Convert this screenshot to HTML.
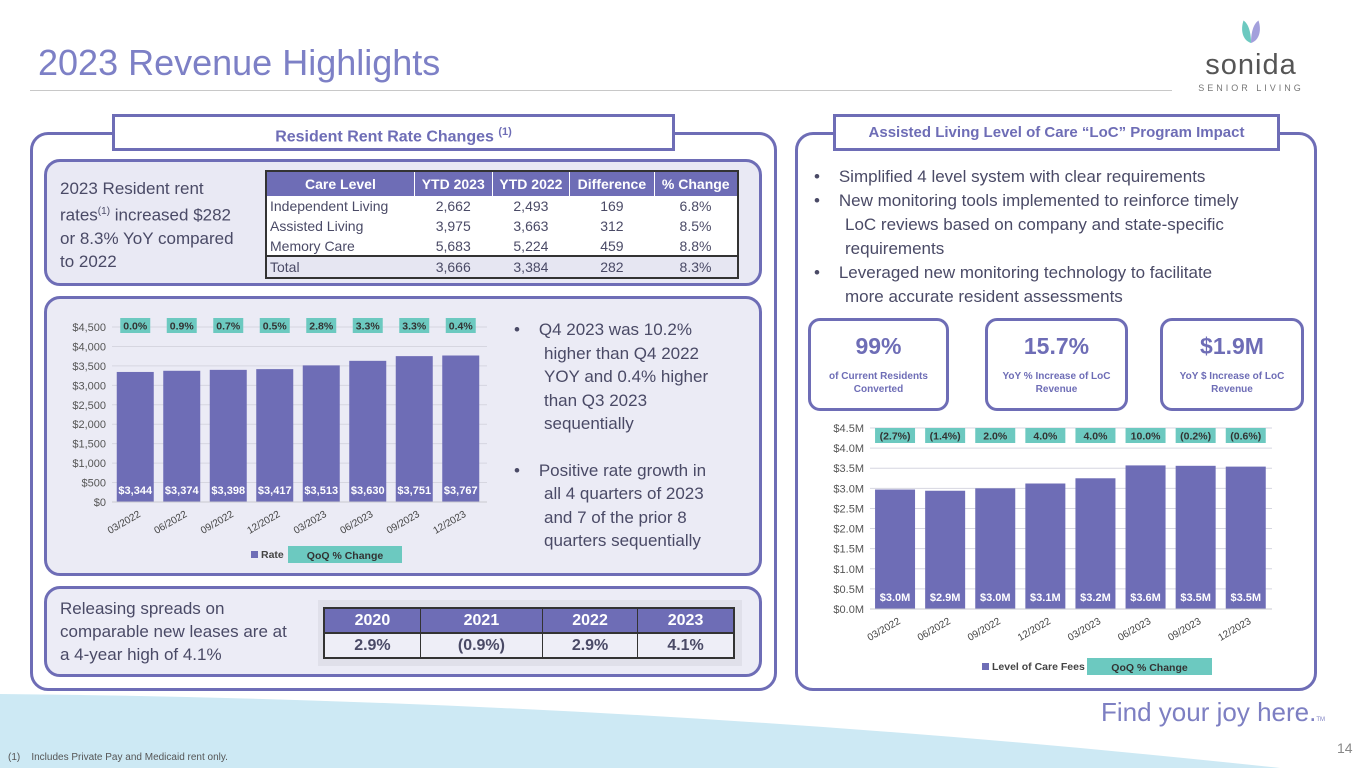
<!DOCTYPE html>
<html><head><meta charset="utf-8">
<style>
*{margin:0;padding:0;box-sizing:border-box}
body{width:1365px;height:768px;position:relative;overflow:hidden;background:#fff;font-family:"Liberation Sans",sans-serif;color:#4a4a66}
.abs{position:absolute}
.panel{position:absolute;border:3px solid #6e6db6;border-radius:18px}
.inner{position:absolute;border:3px solid #6e6db6;border-radius:16px;background:#e9e9f4}
.ttl{position:absolute;background:#fff;border:3px solid #6e6db6;color:#6e6db6;font-weight:bold;font-size:16px;text-align:center;line-height:31px}
table{border-collapse:collapse;font-size:14px}
.stat{position:absolute;background:#fff;border:3px solid #6e6db6;border-radius:12px;text-align:center;color:#6e6db6}
.stat b{display:block;font-size:23px;margin-top:12px}
.stat span{display:block;font-size:10px;font-weight:bold;margin-top:10px;line-height:13px}
ul{list-style:none}
li{white-space:nowrap}
</style></head><body>
<svg class="abs" style="left:0;top:0" width="1365" height="768"><path d="M0,694 Q650,700 1280,768 L0,768Z" fill="#cde9f4"/></svg>

<div class="abs" style="left:38px;top:42px;font-size:36px;color:#7d80c6">2023 Revenue Highlights</div>
<div class="abs" style="left:30px;top:90px;width:1142px;height:1px;background:#c8c8c8"></div>

<div class="abs" style="left:1191px;top:16px;width:120px;height:90px;text-align:center;white-space:nowrap">
<svg width="30" height="30" viewBox="0 0 40 36"><path d="M20,34 C8,30 6,16 10,4 C16,8 20,18 20,34Z" fill="#6cc9c0"/><path d="M20,34 C32,30 34,16 30,4 C24,8 20,18 20,34Z" fill="#a3a0dc"/></svg>
<div style="font-size:29px;color:#555;letter-spacing:1px;line-height:28px;margin-top:0px">sonida</div>
<div style="font-size:9px;color:#777;letter-spacing:3px;margin-top:4px">SENIOR LIVING</div>
</div>

<!-- LEFT PANEL -->
<div class="panel" style="left:30px;top:132px;width:747px;height:559px"></div>
<div class="ttl" style="left:112px;top:114px;width:563px;height:37px">Resident Rent Rate Changes <sup style="font-size:11px">(1)</sup></div>

<div class="inner" style="left:44px;top:159px;width:718px;height:127px"></div>
<div class="abs" style="left:60px;top:177px;font-size:17px;line-height:23px;white-space:nowrap">2023 Resident rent<br>rates<sup style="font-size:10px">(1)</sup> increased $282<br>or 8.3% YoY compared<br>to 2022</div>
<table class="abs" style="left:265px;top:170px;width:474px;border:2px solid #333;background:#fff">
<tr style="background:#6e6db6;color:#fff;font-weight:bold;height:25px;text-align:center"><td style="border-right:1px solid #fff">Care Level</td><td style="border-right:1px solid #fff">YTD 2023</td><td style="border-right:1px solid #fff">YTD 2022</td><td style="border-right:1px solid #fff">Difference</td><td>% Change</td></tr>
<tr style="height:20px;text-align:center"><td style="text-align:left;padding-left:3px">Independent Living</td><td>2,662</td><td>2,493</td><td>169</td><td>6.8%</td></tr>
<tr style="height:20px;text-align:center"><td style="text-align:left;padding-left:3px">Assisted Living</td><td>3,975</td><td>3,663</td><td>312</td><td>8.5%</td></tr>
<tr style="height:20px;text-align:center"><td style="text-align:left;padding-left:3px">Memory Care</td><td>5,683</td><td>5,224</td><td>459</td><td>8.8%</td></tr>
<tr style="height:22px;text-align:center;background:#e6e6f2;border-top:2px solid #333"><td style="text-align:left;padding-left:3px">Total</td><td>3,666</td><td>3,384</td><td>282</td><td>8.3%</td></tr>
</table>

<div class="inner" style="left:44px;top:296px;width:718px;height:280px;background:#ebebf5"></div>
<svg class="abs" id="leftChart" style="left:44px;top:296px" width="460" height="280"></svg>
<ul class="abs" style="left:514px;top:318px;font-size:17px;line-height:23.5px">
<li>•&nbsp;&nbsp;&nbsp;&nbsp;Q4 2023 was 10.2%</li>
<li style="padding-left:30px">higher than Q4 2022</li>
<li style="padding-left:30px">YOY and 0.4% higher</li>
<li style="padding-left:30px">than Q3 2023</li>
<li style="padding-left:30px">sequentially</li>
<li style="margin-top:23px">•&nbsp;&nbsp;&nbsp;&nbsp;Positive rate growth in</li>
<li style="padding-left:30px">all 4 quarters of 2023</li>
<li style="padding-left:30px">and 7 of the prior 8</li>
<li style="padding-left:30px">quarters sequentially</li>
</ul>

<div class="inner" style="left:44px;top:586px;width:718px;height:91px;background:#ececf6"></div>
<div class="abs" style="left:60px;top:597px;font-size:17px;line-height:23px;white-space:nowrap">Releasing spreads on<br>comparable new leases are at<br>a 4-year high of 4.1%</div>
<div class="abs" style="left:318px;top:600px;width:424px;height:66px;background:#e0e0ea"></div>
<table class="abs" style="left:323px;top:607px;width:412px;border:2px solid #333;font-weight:bold;font-size:16px;text-align:center">
<tr style="background:#6e6db6;color:#fff;height:25px"><td style="border-right:1px solid #333">2020</td><td style="border-right:1px solid #333">2021</td><td style="border-right:1px solid #333">2022</td><td>2023</td></tr>
<tr style="background:#eeeef7;height:25px;border-top:2px solid #333"><td style="border-right:1px solid #333">2.9%</td><td style="border-right:1px solid #333">(0.9%)</td><td style="border-right:1px solid #333">2.9%</td><td>4.1%</td></tr>
</table>

<!-- RIGHT PANEL -->
<div class="panel" style="left:795px;top:132px;width:522px;height:559px"></div>
<div class="ttl" style="left:833px;top:114px;width:447px;height:37px;font-size:15px">Assisted Living Level of Care “LoC” Program Impact</div>
<ul class="abs" style="left:814px;top:165px;font-size:17px;line-height:24px">
<li>•&nbsp;&nbsp;&nbsp;&nbsp;Simplified 4 level system with clear requirements</li>
<li>•&nbsp;&nbsp;&nbsp;&nbsp;New monitoring tools implemented to reinforce timely</li>
<li style="padding-left:31px">LoC reviews based on company and state-specific</li>
<li style="padding-left:31px">requirements</li>
<li>•&nbsp;&nbsp;&nbsp;&nbsp;Leveraged new monitoring technology to facilitate</li>
<li style="padding-left:31px">more accurate resident assessments</li>
</ul>
<div class="stat" style="left:808px;top:318px;width:141px;height:93px"><b>99%</b><span>of Current Residents<br>Converted</span></div>
<div class="stat" style="left:985px;top:318px;width:143px;height:93px"><b>15.7%</b><span>YoY % Increase of LoC<br>Revenue</span></div>
<div class="stat" style="left:1160px;top:318px;width:144px;height:93px"><b>$1.9M</b><span>YoY $ Increase of LoC<br>Revenue</span></div>
<svg class="abs" id="rightChart" style="left:800px;top:415px" width="480" height="270"></svg>

<div class="abs" style="left:1101px;top:697px;font-size:26px;color:#7d7fc2;white-space:nowrap">Find your joy here.<span style="font-size:6px">TM</span></div>
<div class="abs" style="left:1337px;top:740px;font-size:14px;color:#888">14</div>
<div class="abs" style="left:8px;top:752px;font-size:10px;color:#555">(1)&nbsp;&nbsp;&nbsp;&nbsp;Includes Private Pay and Medicaid rent only.</div>

<script>
const NS="http://www.w3.org/2000/svg";
const leftCats=["03/2022","06/2022","09/2022","12/2022","03/2023","06/2023","09/2023","12/2023"];
const leftRates=[3344,3374,3398,3417,3513,3630,3751,3767];
const leftQoQ=["0.0%","0.9%","0.7%","0.5%","2.8%","3.3%","3.3%","0.4%"];
const leftTicks=[0,500,1000,1500,2000,2500,3000,3500,4000,4500];
const rightCats=["03/2022","06/2022","09/2022","12/2022","03/2023","06/2023","09/2023","12/2023"];
const rightFees=[2.97,2.94,3.00,3.12,3.25,3.57,3.56,3.54];
const rightValueLabels=["$3.0M","$2.9M","$3.0M","$3.1M","$3.2M","$3.6M","$3.5M","$3.5M"];
const rightQoQ=["(2.7%)","(1.4%)","2.0%","4.0%","4.0%","10.0%","(0.2%)","(0.6%)"];
const rightTicks=[0,0.5,1,1.5,2,2.5,3,3.5,4,4.5];

function el(svg,tag,attrs,text){const e=document.createElementNS(NS,tag);for(const k in attrs)e.setAttribute(k,attrs[k]);if(text!==undefined)e.textContent=text;svg.appendChild(e);return e;}

function drawChart(svg,o){
  const y=v=>o.y0-(v/o.max)*(o.y0-o.yTop);
  const x=i=>o.x0+o.step*(i+0.5);
  o.ticks.forEach(t=>{
    const g=el(svg,"line",{x1:o.x0,x2:o.x1,y1:y(t),y2:y(t),stroke:"#d6d6e0","stroke-width":1});
    
    
    const l=el(svg,"text",{x:o.x0-6,y:y(t)+4,"text-anchor":"end","font-size":11,fill:"#555"},o.fmt(t));
    
    
  });
  o.vals.forEach((v,i)=>{
    const b=el(svg,"rect",{x:x(i)-o.bw/2,y:y(v),width:o.bw,height:o.y0-y(v),fill:"#6e6db6"});
    
    
    const vl=el(svg,"text",{x:x(i),y:o.y0-8,"text-anchor":"middle","font-size":11,"font-weight":"bold",fill:"#fff"},o.vlab[i]);
    
    
    const qb=el(svg,"rect",{x:x(i)-o.qw/2,y:o.qy,width:o.qw,height:15,fill:"#6cc9c0"});
    
    
    const qt=el(svg,"text",{x:x(i),y:o.qy+11.5,"text-anchor":"middle","font-size":10.5,"font-weight":"bold",fill:"#333"},o.qoq[i]);
    
    
    const xl=el(svg,"text",{x:x(i)+6,y:o.y0+14,"text-anchor":"end","font-size":10,fill:"#444",transform:`rotate(-30 ${x(i)+6} ${o.y0+14})`},o.cats[i]);
    
    
  });
  const ax=el(svg,"line",{x1:o.x0,x2:o.x1,y1:o.y0,y2:o.y0,stroke:"#c8c8d0"});
  
  
  const ls=el(svg,"rect",{x:o.legX,y:o.legY-7,width:7,height:7,fill:"#6e6db6"});
  
  
  const lt=el(svg,"text",{x:o.legX+10,y:o.legY,"font-size":10.5,"font-weight":"bold",fill:"#444"},o.legName);
  
  
  const qr=el(svg,"rect",{x:o.legQx,y:o.legY-12,width:o.legQw,height:17,fill:"#6cc9c0"});
  
  
  const qt=el(svg,"text",{x:o.legQx+o.legQw/2,y:o.legY+1,"text-anchor":"middle","font-size":10.5,"font-weight":"bold",fill:"#333"},"QoQ % Change");
  
  
}

drawChart(document.getElementById("leftChart"),{
  x0:68,x1:443,step:46.5,bw:37,y0:206,yTop:31,max:4500,ticks:leftTicks,
  fmt:t=>"$"+t.toLocaleString("en-US"),vals:leftRates,cats:leftCats,
  vlab:leftRates.map(v=>"$"+v.toLocaleString("en-US")),qoq:leftQoQ,qy:22,qw:30,
  legX:207,legY:262,legName:"Rate",legQx:244,legQw:114
});
drawChart(document.getElementById("rightChart"),{
  x0:70,x1:472,step:50.1,bw:40,y0:194,yTop:13,max:4.5,ticks:rightTicks,
  fmt:t=>"$"+t.toFixed(1)+"M",vals:rightFees,cats:rightCats,
  vlab:rightValueLabels,qoq:rightQoQ,qy:13,qw:40,
  legX:182,legY:255,legName:"Level of Care Fees",legQx:287,legQw:125
});
</script>
</body></html>
